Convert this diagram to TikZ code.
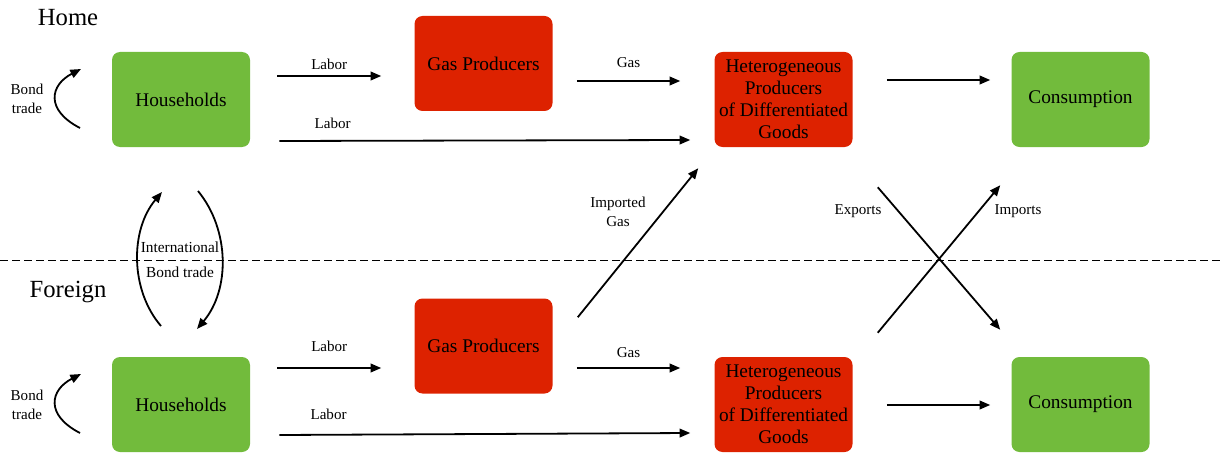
\documentclass[tikz,border=0pt]{standalone}
\usepackage{fontspec}
\setmainfont{Liberation Serif}
\usetikzlibrary{arrows.meta,positioning,calc}
\definecolor{boxgreen}{RGB}{114,187,60}
\definecolor{boxred}{RGB}{221,34,0}
\tikzset{
  box/.style={rounded corners=6pt, minimum width=103.5pt, minimum height=71.25pt,
    align=center, inner sep=1pt, font=\fontsize{14.5}{16.5}\selectfont},
  greenbox/.style={box, fill=boxgreen},
  redbox/.style={box, fill=boxred},
  flow/.style={line width=1.35pt, -{Triangle[length=8pt,width=6.5pt]}},
  lbl/.style={font=\fontsize{11.3}{14.5}\selectfont, align=center},
  country/.style={font=\fontsize{18.5}{20}\selectfont},
}
\begin{document}
\begin{tikzpicture}[x=0.75pt,y=-0.75pt]
\useasboundingbox (0,0) rectangle (1221,453);

% \draw[step=50,gray,very thin] (0,0) grid (1221,453);
        \node[country] (home) at (68,18) {Home};
        \node[country] (foreign) at (68,292) {Foreign};
        \draw[dashed,line width=0.6pt,dash pattern=on 6pt off 3pt] (0,260) -- (1221,260);

        % home country
        \node[greenbox] (hhH) at (181,99.5) {Households};
        \node[redbox] (gpH) at (483.5,63.5) {Gas Producers};
        \node[redbox] (hetH) at (783.5,99.5) {Heterogeneous\\Producers\\of Differentiated\\Goods};
        \node[greenbox] (consH) at (1080.5,99.5) {Consumption};

        % foreign country
        \node[greenbox] (hhF) at (181,404.5) {Households};
        \node[redbox] (gpF) at (483.5,346) {Gas Producers};
        \node[redbox] (hetF) at (783.5,404.5) {Heterogeneous\\Producers\\of Differentiated\\Goods};
        \node[greenbox] (consF) at (1080.5,404.5) {Consumption};

        \draw[flow] ($(hhH.east)+(27,-23.5)$) -- node[lbl,above=1pt] {Labor} ($(gpH.west)+(-33,12.5)$);
        \draw[flow] ($(gpH.east)+(24,17.5)$) -- node[lbl,above=6pt] {Gas} ($(hetH.west)+(-34,-18.5)$);
        \draw[flow] ($(hhH.east)+(29,41.5)$) -- node[lbl,above=5pt,pos=0.13] {Labor} ($(hetH.west)+(-24,40.5)$);
        \draw[flow] ($(hetH.east)+(34,-19.5)$) -- ($(consH.west)+(-21,-19.5)$);

        \draw[flow] ($(hhF.east)+(27,-36.5)$) -- node[lbl,above=8pt,pos=0.5] {Labor} ($(gpF.west)+(-33,22)$);
        \draw[flow] ($(gpF.east)+(24,22)$) -- node[lbl,above=4pt] {Gas} ($(hetF.west)+(-34,-36.5)$);
        \draw[flow] ($(hhF.east)+(29,30.5)$) -- node[lbl,above=7pt,pos=0.12] {Labor} ($(hetF.west)+(-24,28.5)$);
        \draw[flow] ($(hetF.east)+(34,0.5)$) -- ($(consF.west)+(-21,0.5)$);

        % trade across the border
        \draw[flow] ($(gpF.north east)+(25,19)$) -- ($(hetH.south west)+(-16,21)$);
        \node[lbl] (impgas) at (618,212) {Imported\\Gas};
        \draw[flow] ($(hetH.south east)+(25,40)$) -- ($(consF.north west)+(-11,-27)$);
        \draw[flow] ($(hetF.north east)+(25,-24)$) -- ($(consH.south west)+(-11,38)$);
        \node[lbl] (exports) at (858,211) {Exports};
        \node[lbl] (imports) at (1018,211) {Imports};

        % bond trade
        \node[lbl] (bondH) at (27,99) {Bond\\trade};
        \node[lbl] (bondF) at (27,405) {Bond\\trade};
        \draw[flow] (80,128) .. controls (45,110) and (50,85) .. (81,69);
        \draw[flow] (80,433) .. controls (45,415) and (50,390) .. (81,374);
        \draw[flow] (161,326) .. controls (130,290) and (130,230) .. (162,192);
        \draw[flow] (198,191) .. controls (230,230) and (230,290) .. (197,329);
        \node[lbl,font=\fontsize{11.5}{19}\selectfont] (intl) at (180,260) {International\\Bond trade};

\end{tikzpicture}
\end{document}
